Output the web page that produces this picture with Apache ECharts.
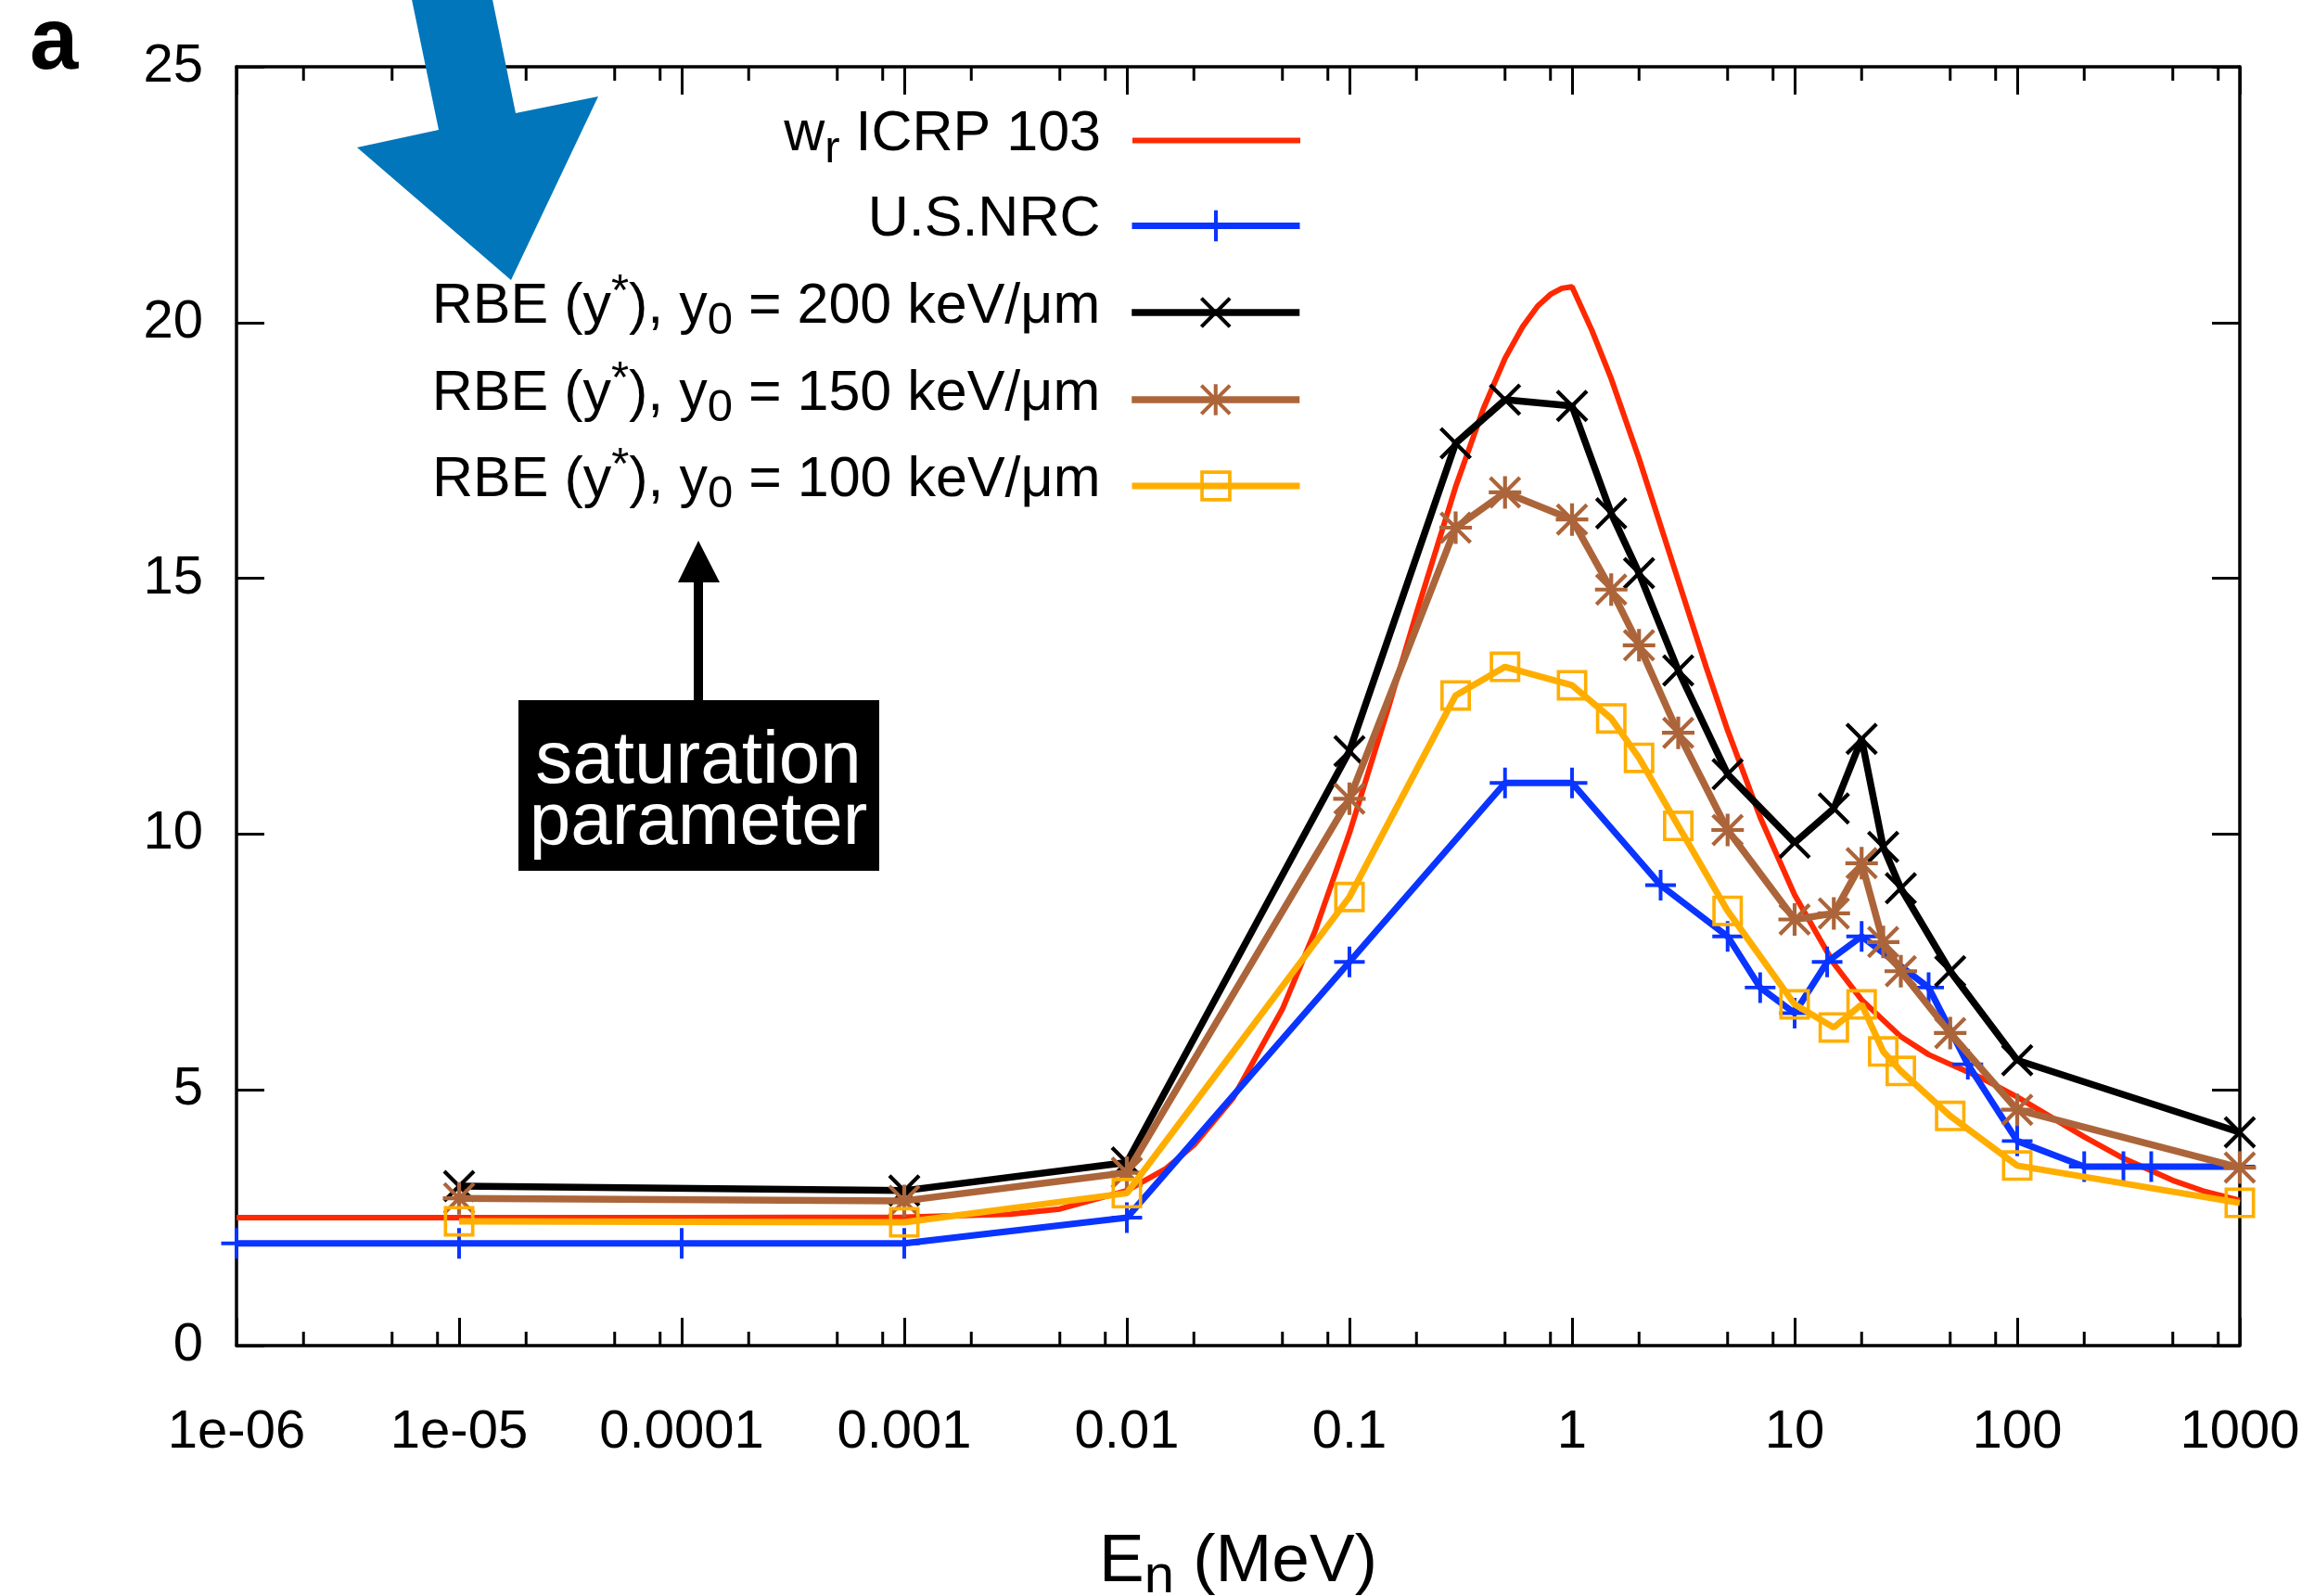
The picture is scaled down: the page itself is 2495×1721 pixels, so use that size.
<!DOCTYPE html>
<html><head><meta charset="utf-8">
<script src="https://cdn.jsdelivr.net/npm/echarts@6.0.0/dist/echarts.min.js"></script>
<style>html,body{margin:0;padding:0;background:#fff}#chart{width:2495px;height:1721px}</style>
</head><body><div id="chart"></div>
<script>
const FONT = '"Liberation Sans", Arial, Helvetica, sans-serif';

// ---------------- data ----------------
const xTickLabels = ['1e-06','1e-05','0.0001','0.001','0.01','0.1','1','10','100','1000'];
const yTickLabels = ['0','5','10','15','20','25'];

// w_R, ICRP 103 (smooth curve, sampled)
const icrpE = [1e-6, 1e-4, 1e-3, 3e-3, 5e-3, 0.01, 0.015, 0.02, 0.03, 0.05, 0.07, 0.1, 0.15, 0.2, 0.3, 0.4, 0.5, 0.6, 0.7, 0.8, 0.9, 1, 1.23, 1.5, 2, 3, 4, 5, 7, 10, 15, 20, 30, 40, 50, 70, 100, 200, 300, 500, 700, 1000];
const icrpW = [2.5, 2.5, 2.51, 2.57, 2.67, 3.03, 3.46, 3.92, 4.84, 6.58, 8.10, 10.02, 12.49, 14.32, 16.79, 18.32, 19.30, 19.92, 20.32, 20.55, 20.67, 20.70, 19.84, 18.90, 17.34, 14.96, 13.27, 12.03, 10.33, 8.81, 7.47, 6.76, 6.04, 5.69, 5.50, 5.22, 4.86, 4.08, 3.66, 3.23, 3.01, 2.84];

// U.S.NRC quality factor
const nrcE = [1e-6, 1e-5, 1e-4, 1e-3, 0.01, 0.1, 0.5, 1, 2.5, 5, 7, 10, 14, 20, 40, 60, 100, 200, 300, 400, 1000];
const nrcQ = [2, 2, 2, 2, 2.5, 7.5, 11, 11, 9, 8, 7, 6.5, 7.5, 8, 7, 5.5, 4, 3.5, 3.5, 3.5, 3.5];

// RBE(y*) energies (shared by the three saturation-parameter curves)
const rbeE = [1e-5, 1e-3, 0.01, 0.1, 0.3, 0.5, 1, 1.5, 2, 3, 5, 10, 15, 20, 25, 30, 50, 100, 1000];
const rbe200 = [3.12, 3.03, 3.58, 11.62, 17.64, 18.49, 18.37, 16.27, 15.10, 13.20, 11.17, 9.83, 10.50, 11.86, 9.75, 8.94, 7.32, 5.58, 4.17];
const rbe150 = [2.88, 2.83, 3.38, 10.69, 15.99, 16.68, 16.15, 14.78, 13.69, 11.98, 10.08, 8.33, 8.45, 9.43, 7.89, 7.32, 6.11, 4.61, 3.48];
const rbe100 = [2.43, 2.41, 2.98, 8.77, 12.71, 13.27, 12.91, 12.26, 11.49, 10.16, 8.50, 6.67, 6.22, 6.67, 5.75, 5.37, 4.49, 3.52, 2.79];

const seriesNames = ['wr ICRP 103', 'U.S.NRC', 'RBE y0=200', 'RBE y0=150', 'RBE y0=100'];
const legendLabels = [
  '{n|w}{sub|r}{n| ICRP 103}',
  '{n|U.S.NRC}',
  '{n|RBE (y}{sup|*}{n|), y}{sub|0}{n| = 200 keV/μm}',
  '{n|RBE (y}{sup|*}{n|), y}{sub|0}{n| = 150 keV/μm}',
  '{n|RBE (y}{sup|*}{n|), y}{sub|0}{n| = 100 keV/μm}'
];
// minor tick multipliers within each decade (as drawn in the reference)
const minorMult = [2, 5, 8];

// ---------------- styling ----------------
const COLORS = ['#ff2800', '#0a34ff', '#000000', '#ac653a', '#ffae00'];
const WIDTHS = [6, 7, 7.5, 7.5, 7];
const SYM_PLUS = 'path://M44,0H56V44H100V56H56V100H44V56H0V44H44Z';
const CROSS_D = 'M0,8.5L8.5,0L50,41.5L91.5,0L100,8.5L58.5,50L100,91.5L91.5,100L50,58.5L8.5,100L0,91.5L41.5,50Z';
const SYM_CROSS = 'path://' + CROSS_D;
const SYM_STAR = 'path://M44,0H56V44H100V56H56V100H44V56H0V44H44Z ' + CROSS_D;
const SYM_SQUARE = 'path://M0,0H100V100H0Z M11,11V89H89V11Z';
const SYMBOLS = ['none', SYM_PLUS, SYM_CROSS, SYM_STAR, SYM_SQUARE];

const rich = {
  n:   { fontSize: 61, lineHeight: 80, fontFamily: FONT, color: '#000' },
  sub: { fontSize: 49, lineHeight: 34, verticalAlign: 'bottom', fontFamily: FONT, color: '#000' },
  sup: { fontSize: 49, lineHeight: 28, verticalAlign: 'top', fontFamily: FONT, color: '#000' }
};

function pairs(xs, ys) { return xs.map((x, i) => [x, ys[i]]); }

const minorTicks = [];
for (let d = -6; d < 3; d++) minorMult.forEach(m => minorTicks.push([m * Math.pow(10, d), 0]));

const dataSets = [pairs(icrpE, icrpW), pairs(nrcE, nrcQ), pairs(rbeE, rbe200), pairs(rbeE, rbe150), pairs(rbeE, rbe100)];

const lineSeries = seriesNames.map((nm, i) => ({
  name: nm, type: 'line', data: dataSets[i],
  symbol: SYMBOLS[i], symbolSize: i === 1 || i === 4 ? 33 : 35, showAllSymbol: true,
  lineStyle: { color: COLORS[i], width: WIDTHS[i] },
  itemStyle: { color: COLORS[i] },
  emphasis: { disabled: true }, z: 3 + i
}));

const rowCentres = [151, 244, 337, 431, 524];
const rowShift = [10, 9, 0, 0, 0];
const legends = seriesNames.map((nm, i) => ({
  data: [nm], orient: 'vertical', align: 'right', selectedMode: false,
  right: 1090, top: rowCentres[i] - 46 + rowShift[i], padding: 0,
  itemWidth: 181, itemHeight: 42,
  textStyle: { fontFamily: FONT, fontSize: 61, color: '#000', padding: [0, 29, 12, 0], rich: rich },
  formatter: () => legendLabels[i],
  itemStyle: i === 0 ? { opacity: 0 } : {},
  lineStyle: { width: WIDTHS[i] }
}));

const axisLineStyle = { color: '#000', width: 3.5 };
const tickStyle = { color: '#000', width: 3 };

const option = {
  animation: false,
  backgroundColor: '#fff',
  grid: { left: 255, right: 80, top: 72, bottom: 270, containLabel: false, outerBoundsMode: 'none' },
  legend: legends,
  xAxis: [
    { type: 'log', logBase: 10, min: 1e-6, max: 1000, position: 'bottom',
      axisLine: { show: true, onZero: false, lineStyle: axisLineStyle },
      axisTick: { show: true, inside: true, length: 30, lineStyle: tickStyle },
      minorTick: { show: false }, splitLine: { show: false },
      axisLabel: { fontFamily: FONT, fontSize: 58, color: '#000', margin: 65,
        formatter: v => xTickLabels[Math.round(Math.log10(v)) + 6] },
      name: '{n|E}{s|n}{n| (MeV)}', nameLocation: 'middle', nameGap: 189,
      nameTextStyle: { rich: {
        n: { fontSize: 73, lineHeight: 90, fontFamily: FONT, color: '#000' },
        s: { fontSize: 58, lineHeight: 48, verticalAlign: 'bottom', fontFamily: FONT, color: '#000' } } } },
    { type: 'log', logBase: 10, min: 1e-6, max: 1000, position: 'top',
      axisLine: { show: true, onZero: false, lineStyle: axisLineStyle },
      axisTick: { show: true, inside: true, length: 30, lineStyle: tickStyle },
      axisLabel: { show: false }, splitLine: { show: false } }
  ],
  yAxis: [
    { type: 'value', min: 0, max: 25, interval: 5, position: 'left',
      axisLine: { show: true, onZero: false, lineStyle: axisLineStyle },
      axisTick: { show: true, inside: true, length: 30, lineStyle: tickStyle },
      splitLine: { show: false },
      axisLabel: { fontFamily: FONT, fontSize: 58, color: '#000', margin: 36,
        formatter: v => yTickLabels[Math.round(v / 5)] } },
    { type: 'value', min: 0, max: 25, interval: 5, position: 'right',
      axisLine: { show: true, onZero: false, lineStyle: axisLineStyle },
      axisTick: { show: true, inside: true, length: 30, lineStyle: tickStyle },
      splitLine: { show: false }, axisLabel: { show: false } }
  ],
  series: [
    { type: 'custom', name: 'minor ticks', data: minorTicks, silent: true, z: 1,
      renderItem: (params, api) => {
        const x = api.value(0);
        const b = api.coord([x, 0]);
        const t = api.coord([x, 25]);
        return { type: 'group', children: [
          { type: 'line', shape: { x1: b[0], y1: b[1], x2: b[0], y2: b[1] - 15 }, style: { stroke: '#000', lineWidth: 3 } },
          { type: 'line', shape: { x1: t[0], y1: t[1], x2: t[0], y2: t[1] + 15 }, style: { stroke: '#000', lineWidth: 3 } }
        ] };
      } },
    ...lineSeries
  ],
  graphic: [
    { type: 'polygon', z: 100, shape: { points: [[440, -20], [527, -20], [556, 122], [645, 104], [551, 302], [385, 159], [473, 140]] }, style: { fill: '#0176bb' } },
    { type: 'rect', z: 100, shape: { x: 748, y: 615, width: 10, height: 142 }, style: { fill: '#000' } },
    { type: 'polygon', z: 100, shape: { points: [[731, 628], [776, 628], [753, 583]] }, style: { fill: '#000' } },
    { type: 'rect', z: 100, shape: { x: 559, y: 755, width: 389, height: 184 }, style: { fill: '#000' } },
    { type: 'text', z: 101, x: 753, y: 855, style: { text: 'saturation\nparameter', fill: '#fff', fontSize: 80, lineHeight: 66, fontFamily: FONT, align: 'center', verticalAlign: 'middle' } },
    { type: 'text', z: 101, x: 32, y: 48, style: { text: 'a', fill: '#000', fontSize: 94, fontWeight: 'bold', fontFamily: FONT, align: 'left', verticalAlign: 'middle' } }
  ]
};

const chart = echarts.init(document.getElementById('chart'), null, { renderer: 'canvas', width: 2495, height: 1721 });
chart.setOption(option);
</script></body></html>
